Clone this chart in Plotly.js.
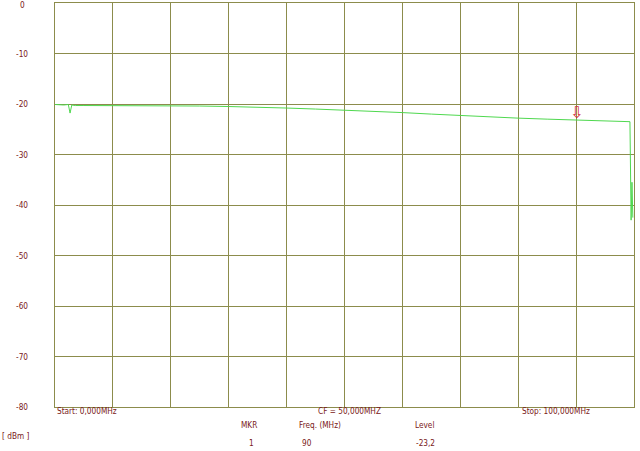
<!DOCTYPE html>
<html>
<head>
<meta charset="utf-8">
<script src="https://cdn.plot.ly/plotly-3.0.1.min.js"></script>
<style>
html,body{margin:0;padding:0;background:#ffffff;}
#chart{width:640px;height:451px;}
</style>
</head>
<body>
<div id="chart"></div>
<script>
// ---- data ----
const freqMHz = [0, 1.5, 2.3, 2.6, 2.9, 3.5, 5, 10, 15, 20, 25, 30, 35, 40, 45, 50, 55, 60, 65, 70, 75, 80, 85, 90, 95, 99.3, 99.5, 99.65, 99.8];
const levelDbm = [-20.1, -20.2, -20.1, -21.8, -20.2, -20.3, -20.3, -20.3, -20.3, -20.3, -20.4, -20.5, -20.6, -20.8, -21.0, -21.2, -21.4, -21.7, -22.0, -22.3, -22.6, -22.8, -23.0, -23.2, -23.4, -23.5, -43.0, -35.5, -42.5];
const yTicks = [0, -10, -20, -30, -40, -50, -60, -70, -80];
const yTickLabels = ["0", "-10", "-20", "-30", "-40", "-50", "-60", "-70", "-80"];
const markerNo = ["1"];
const markerFreq = [90];
const markerLevel = [-23.2];
const startLabel = "Start: 0,000MHz";
const centerLabel = "CF = 50,000MHZ";
const stopLabel = "Stop: 100,000MHz";
const unitLabel = "[ dBm ]";
const tableHeaders = ["MKR", "Freq. (MHz)", "Level"];

// ---- layout helpers (pixel -> paper) ----
const L = 55, R = 634, T = 3, B = 407;
const px = x => (x - L) / (R - L);
const py = y => (B - y) / (B - T);

const textColor = "#7a2020";
const gridColor = "#8c8c4c";
const fnt = {family: "DejaVu Sans Condensed, Liberation Sans, sans-serif", size: 8.2, color: textColor};

const annotations = [];
yTicks.forEach((v, i) => {
  annotations.push({xref: "paper", yref: "y", x: px(22), y: v, text: yTickLabels[i],
    showarrow: false, xanchor: "center", yanchor: "middle", yshift: (v === 0 ? -2 : 0), font: fnt});
});
annotations.push({xref: "paper", yref: "paper", x: px(55), y: py(411), text: startLabel, showarrow: false, xanchor: "left", yanchor: "middle", font: fnt});
annotations.push({xref: "paper", yref: "paper", x: px(349), y: py(411), text: centerLabel, showarrow: false, xanchor: "center", yanchor: "middle", font: fnt});
annotations.push({xref: "paper", yref: "paper", x: px(520), y: py(411), text: stopLabel, showarrow: false, xanchor: "left", yanchor: "middle", font: fnt});
annotations.push({xref: "paper", yref: "paper", x: px(15), y: py(436), text: unitLabel, showarrow: false, xanchor: "center", yanchor: "middle", font: fnt});
const colX = [249, 320, 424];
tableHeaders.forEach((h, i) => {
  annotations.push({xref: "paper", yref: "paper", x: px(colX[i]), y: py(425), text: h, showarrow: false, xanchor: "center", yanchor: "middle", font: fnt});
});
annotations.push({xref: "paper", yref: "paper", x: px(251), y: py(443), text: markerNo[0], showarrow: false, xanchor: "center", yanchor: "middle", font: fnt});
annotations.push({xref: "paper", yref: "paper", x: px(300), y: py(443), text: String(markerFreq[0]), showarrow: false, xanchor: "left", yanchor: "middle", font: fnt});
annotations.push({xref: "paper", yref: "paper", x: px(414), y: py(443), text: String(markerLevel[0]).replace(".", ","), showarrow: false, xanchor: "left", yanchor: "middle", font: fnt});
// marker arrow
annotations.push({xref: "x", yref: "y", x: markerFreq[0], y: markerLevel[0], text: "⇩", showarrow: false,
  xanchor: "center", yanchor: "bottom", yshift: -4, font: {family: "DejaVu Sans", size: 16, color: "#d03030"}});

const trace = {
  x: freqMHz, y: levelDbm, type: "scatter", mode: "lines",
  line: {color: "#4fd84f", width: 1}, hoverinfo: "skip"
};

const layout = {
  width: 640, height: 451,
  margin: {l: L, r: 640 - R, t: T, b: 451 - B, pad: 0},
  paper_bgcolor: "#ffffff", plot_bgcolor: "#ffffff",
  showlegend: false,
  xaxis: {range: [0, 100], dtick: 10, tick0: 0, showticklabels: false, ticks: "",
    showgrid: true, gridcolor: gridColor, gridwidth: 1, zeroline: false,
    showline: true, linecolor: gridColor, linewidth: 1, mirror: true, fixedrange: true},
  yaxis: {range: [-80, 0], tickvals: yTicks, showticklabels: false, ticks: "",
    showgrid: true, gridcolor: gridColor, gridwidth: 1, zeroline: false,
    showline: true, linecolor: gridColor, linewidth: 1, mirror: true, fixedrange: true},
  annotations: annotations
};

Plotly.newPlot("chart", [trace], layout, {staticPlot: true, displayModeBar: false});
</script>
</body>
</html>
